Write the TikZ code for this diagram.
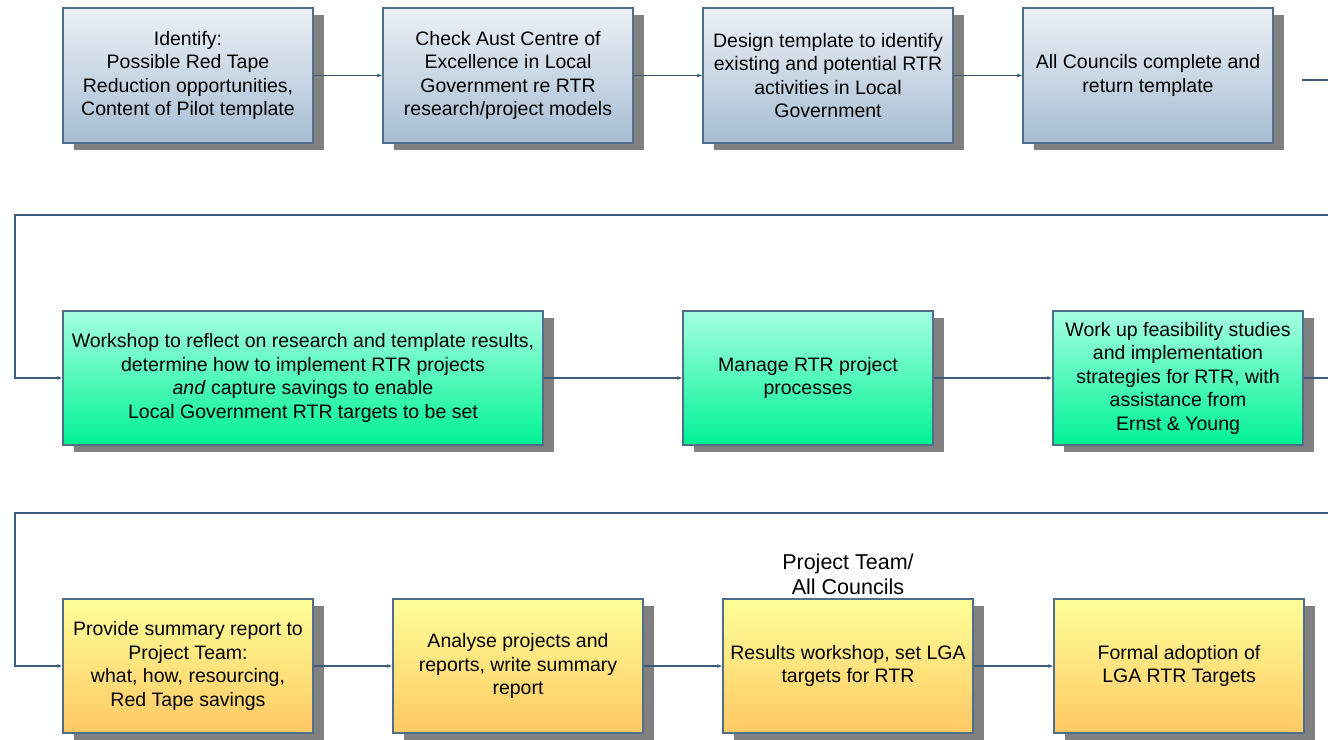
\documentclass[tikz,border=0pt]{standalone}
\usepackage{fontspec}
\setmainfont{Liberation Sans}
\usetikzlibrary{shadows,arrows.meta}
\definecolor{bordc}{HTML}{4F6E8C}
\definecolor{linec}{HTML}{3E5C7A}
\definecolor{shadc}{HTML}{808080}
\definecolor{bluetop}{HTML}{EDF1F7}
\definecolor{bluebot}{HTML}{A6BDD3}
\definecolor{greentop}{HTML}{A6FFE1}
\definecolor{greenbot}{HTML}{00F294}
\definecolor{yeltop}{HTML}{FFFF99}
\definecolor{yelbot}{HTML}{FFC863}
\tikzset{
  procbox/.style={rectangle, draw=bordc, line width=1.2pt, inner sep=0pt,
    minimum width=250pt, minimum height=135pt, align=center,
    font=\fontsize{19.5pt}{23.5pt}\selectfont,
    drop shadow={shadow xshift=11pt, shadow yshift=-7pt, fill=shadc, opacity=1}},
  bluebox/.style={procbox, top color=bluetop, bottom color=bluebot},
  greenbox/.style={procbox, top color=greentop, bottom color=greenbot},
  yelbox/.style={procbox, top color=yeltop, bottom color=yelbot},
  conn/.style={draw=linec, line width=1.2pt, -{Latex[length=5pt,width=4pt]}},
  plainconn/.style={draw=linec, line width=1.2pt}
}
\begin{document}
\begin{tikzpicture}[x=1pt,y=-1pt]
\useasboundingbox (0,0) rectangle (1328,739);
\clip (0,0) rectangle (1328,739);
\fill[white] (0,0) rectangle (1328,739);
% row 1
\node[bluebox] (b1) at (188,75.5) {Identify:\\Possible Red Tape\\Reduction opportunities,\\Content of Pilot template};
\node[bluebox] (b2) at (508,75.5) {Check Aust Centre of\\Excellence in Local\\Government re RTR\\research/project models};
\node[bluebox] (b3) at (828,75.5) {Design template to identify\\existing and potential RTR\\activities in Local\\Government};
\node[bluebox] (b4) at (1148,75.5) {All Councils complete and\\return template};
% row 2
\node[greenbox, minimum width=480pt, minimum height=134pt] (b5) at (303,378) {Workshop to reflect on research and template results,\\determine how to implement RTR projects\\\textit{and} capture savings to enable\\Local Government RTR targets to be set};
\node[greenbox, minimum height=134pt] (b6) at (808,378) {Manage RTR project\\processes};
\node[greenbox, minimum height=134pt] (b7) at (1178,378) {Work up feasibility studies\\and implementation\\strategies for RTR, with\\assistance from\\Ernst \& Young};
% row 3
\node[yelbox, minimum height=134pt] (b9) at (188,666) {Provide summary report to\\Project Team:\\what, how, resourcing,\\Red Tape savings};
\node[yelbox, minimum height=134pt] (b10) at (518,666) {Analyse projects and\\reports, write summary\\report};
\node[yelbox, minimum height=134pt] (b11) at (848,666) {Results workshop, set LGA\\targets for RTR};
\node[yelbox, minimum height=134pt] (b12) at (1179,666) {Formal adoption of\\LGA RTR Targets};
\node[align=center, inner sep=0pt, font=\fontsize{21.5pt}{25pt}\selectfont] (lab) at (848,574.5) {Project Team/\\All Councils};
% connectors
\draw[conn] (b1) -- (b2);
\draw[conn] (b2) -- (b3);
\draw[conn] (b3) -- (b4);
\coordinate (o1) at (1302,80);
\draw[conn] (o1) -- (1345,80) -- (1345,215) -- (15,215) |- (b5.west);
\draw[conn] (b5) -- (b6);
\draw[conn] (b6) -- (b7);
\draw[conn] (b7.east) -- (1345,378) -- (1345,513) -- (15,513) |- (b9.west);
\draw[conn] (b9) -- (b10);
\draw[conn] (b10) -- (b11);
\draw[conn] (b11) -- (b12);
\end{tikzpicture}
\end{document}
